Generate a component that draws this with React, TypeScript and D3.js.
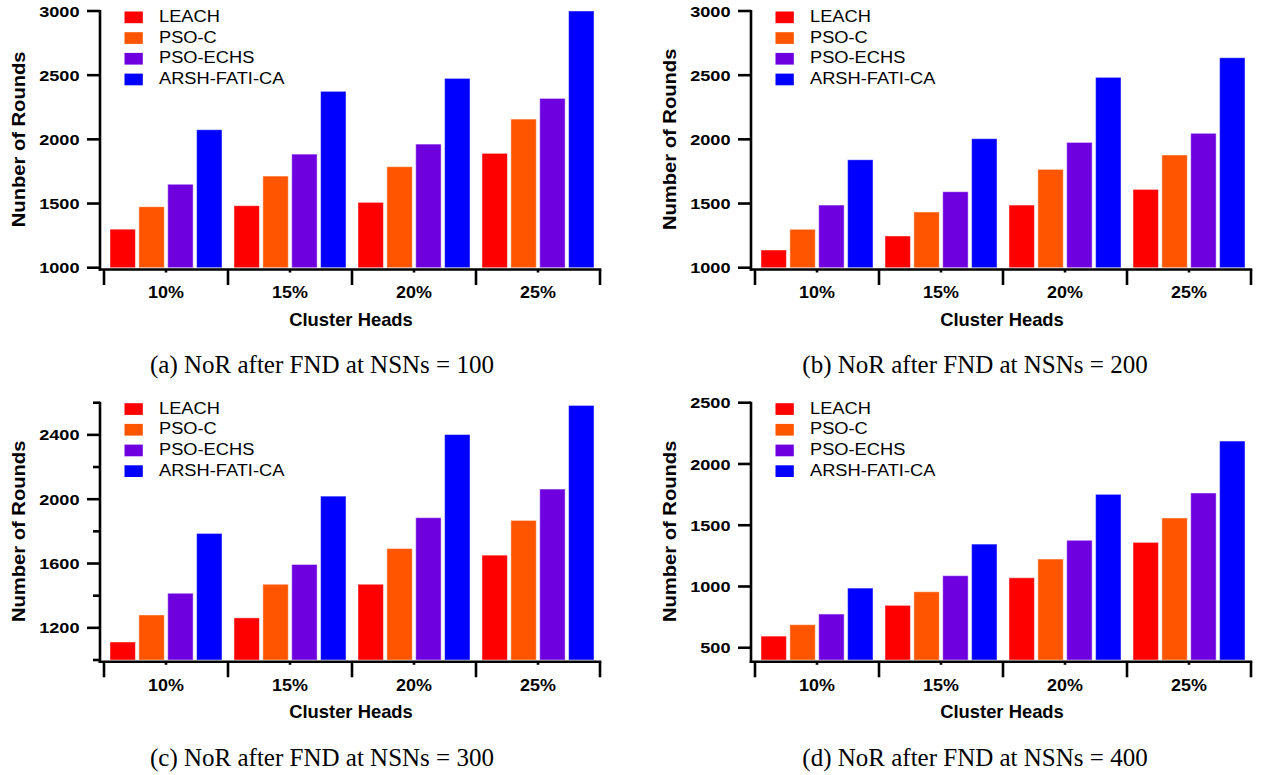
import React from "react";
import * as d3 from "d3";

const categories = ["10%", "15%", "20%", "25%"];
const seriesNames = ["LEACH", "PSO-C", "PSO-ECHS", "ARSH-FATI-CA"];
const seriesColors = ["#FF0000", "#FF5500", "#6E00E0", "#0000FF"];

// Panel (a) NSNs = 100
const aLeach = [1300, 1483, 1509, 1891];
const aPsoC = [1475, 1714, 1787, 2158];
const aPsoEchs = [1650, 1885, 1963, 2319];
const aArsh = [2075, 2374, 2475, 3000];
const aTicks = [1000, 1500, 2000, 2500, 3000];

// Panel (b) NSNs = 200
const bLeach = [1138, 1247, 1488, 1610];
const bPsoC = [1299, 1434, 1766, 1878];
const bPsoEchs = [1488, 1592, 1976, 2047];
const bArsh = [1841, 2005, 2483, 2636];
const bTicks = [1000, 1500, 2000, 2500, 3000];

// Panel (c) NSNs = 300
const cLeach = [1112, 1262, 1471, 1652];
const cPsoC = [1280, 1471, 1693, 1868];
const cPsoEchs = [1415, 1594, 1885, 2063];
const cArsh = [1787, 2019, 2402, 2583];
const cTicks = [1200, 1600, 2000, 2400];
const cMinorTicks = [1000, 1400, 1800, 2200, 2600];

// Panel (d) NSNs = 400
const dLeach = [595, 846, 1071, 1360];
const dPsoC = [688, 957, 1224, 1559];
const dPsoEchs = [775, 1088, 1377, 1763];
const dArsh = [987, 1346, 1752, 2187];
const dTicks = [500, 1000, 1500, 2000, 2500];

const xTitle = "Cluster Heads";

const panels = [
  {
    series: [aLeach, aPsoC, aPsoEchs, aArsh],
    domain: [1000, 3000],
    ticks: aTicks,
    minor: [] as number[],
    yTitle: "Nunber of Rounds",
    caption: "(a) NoR after FND at NSNs = 100",
    axisX: 100, top: 11, bottom: 267.7, captionX: 322,
  },
  {
    series: [bLeach, bPsoC, bPsoEchs, bArsh],
    domain: [1000, 3000],
    ticks: bTicks,
    minor: [] as number[],
    yTitle: "Number of Rounds",
    caption: "(b) NoR after FND at NSNs = 200",
    axisX: 751, top: 11, bottom: 267.7, captionX: 975,
  },
  {
    series: [cLeach, cPsoC, cPsoEchs, cArsh],
    domain: [1000, 2600],
    ticks: cTicks,
    minor: cMinorTicks,
    yTitle: "Number of Rounds",
    caption: "(c) NoR after FND at NSNs = 300",
    axisX: 100, top: 402.7, bottom: 660, captionX: 322,
  },
  {
    series: [dLeach, dPsoC, dPsoEchs, dArsh],
    domain: [400, 2500],
    ticks: dTicks,
    minor: [] as number[],
    yTitle: "Number of Rounds",
    caption: "(d) NoR after FND at NSNs = 400",
    axisX: 751, top: 402.7, bottom: 660, captionX: 975,
  },
];

const SANS = "'Liberation Sans', Arial, sans-serif";
const SERIF = "'Liberation Serif', 'Times New Roman', serif";

function Panel({ p }: { p: (typeof panels)[number] }) {
  const y = d3.scaleLinear().domain(p.domain).range([p.bottom, p.top]);
  const gx0 = p.axisX + 4;
  const x0 = d3.scaleBand<string>().domain(categories).range([gx0, gx0 + 496]).paddingInner(0).paddingOuter(0);
  const x1 = d3
    .scaleBand<string>()
    .domain(seriesNames)
    .range([6, x0.bandwidth() - 6])
    .paddingInner(0.12)
    .paddingOuter(0);
  const axisY = p.bottom + 1.8;
  const boundaries = categories.map((c) => x0(c)!).concat([x0(categories[categories.length - 1])! + x0.bandwidth()]);
  const sw = 2.6;
  return (
    <g>
      {/* bars */}
      {categories.map((c, ci) => (
        <g key={c}>
          {seriesNames.map((s, si) => {
            const v = p.series[si][ci];
            const yt = y(v);
            return (
              <rect
                key={s}
                x={x0(c)! + x1(s)!}
                y={yt}
                width={x1.bandwidth()}
                height={p.bottom - yt}
                fill={seriesColors[si]}
                stroke="#ffffff"
                strokeOpacity={0.45}
                strokeWidth={1}
              />
            );
          })}
        </g>
      ))}
      {/* y axis */}
      <line x1={p.axisX} x2={p.axisX} y1={p.top - 1} y2={axisY + sw / 2} stroke="#000" strokeWidth={sw} />
      {p.ticks.map((t) => (
        <g key={"t" + t}>
          <line x1={p.axisX - 13} x2={p.axisX} y1={y(t)} y2={y(t)} stroke="#000" strokeWidth={sw} />
          <text
            transform={`translate(${p.axisX - 20.5},${y(t) + 5.6}) scale(1.17,1)`}
            textAnchor="end"
            fontFamily={SANS}
            fontWeight="bold"
            fontSize={15.5}
            fill="#000"
          >
            {t}
          </text>
        </g>
      ))}
      {p.minor.map((t) => (
        <line key={"m" + t} x1={p.axisX - 7} x2={p.axisX} y1={y(t)} y2={y(t)} stroke="#000" strokeWidth={sw} />
      ))}
      {/* x axis */}
      <line x1={p.axisX - sw / 2} x2={boundaries[boundaries.length - 1] + sw / 2} y1={axisY} y2={axisY} stroke="#000" strokeWidth={sw} />
      {boundaries.map((b, i) => (
        <line key={"b" + i} x1={b} x2={b} y1={axisY} y2={axisY + 15.5} stroke="#000" strokeWidth={sw} />
      ))}
      {categories.map((c) => (
        <g key={"c" + c}>
          <line
            x1={x0(c)! + x0.bandwidth() / 2}
            x2={x0(c)! + x0.bandwidth() / 2}
            y1={axisY}
            y2={axisY + 3}
            stroke="#000"
            strokeWidth={sw}
          />
          <text
            transform={`translate(${x0(c)! + x0.bandwidth() / 2},${p.bottom + 30.6}) scale(1.1,1)`}
            textAnchor="middle"
            fontFamily={SANS}
            fontWeight="bold"
            fontSize={16.3}
            fill="#000"
          >
            {c}
          </text>
        </g>
      ))}
      {/* axis titles */}
      <text
        x={(boundaries[0] + boundaries[boundaries.length - 1]) / 2 - 1}
        y={p.bottom + 58}
        textAnchor="middle"
        fontFamily={SANS}
        fontWeight="bold"
        fontSize={18.4}
        fill="#000"
      >
        {xTitle}
      </text>
      <text
        transform={`translate(${p.axisX - 75},${(p.top + p.bottom) / 2}) rotate(-90) scale(1.09,1)`}
        textAnchor="middle"
        fontFamily={SANS}
        fontWeight="bold"
        fontSize={18.5}
        fill="#000"
      >
        {p.yTitle}
      </text>
      {/* legend */}
      {seriesNames.map((s, i) => (
        <g key={"l" + s}>
          <rect x={p.axisX + 24.5} y={p.top + 0.5 + i * 20.7} width={18.3} height={11.7} fill={seriesColors[i]} />
          <text
            transform={`translate(${p.axisX + 59},${p.top + 11 + i * 20.7}) scale(1.12,1)`}
            fontFamily={SANS}
            fontSize={16.3}
            fill="#000"
          >
            {s}
          </text>
        </g>
      ))}
      {/* caption */}
      <text
        x={p.captionX}
        y={p.bottom + 105.6}
        textAnchor="middle"
        fontFamily={SERIF}
        fontSize={25}
        fill="#000"
      >
        {p.caption}
      </text>
    </g>
  );
}

export default function App() {
  return (
    <svg
      width={1261}
      height={775}
      style={{ position: "absolute", left: 0, top: 0, background: "#fff" }}
    >
      <rect x={0} y={0} width={1261} height={775} fill="#fff" />
      {panels.map((p, i) => (
        <Panel key={i} p={p} />
      ))}
    </svg>
  );
}
